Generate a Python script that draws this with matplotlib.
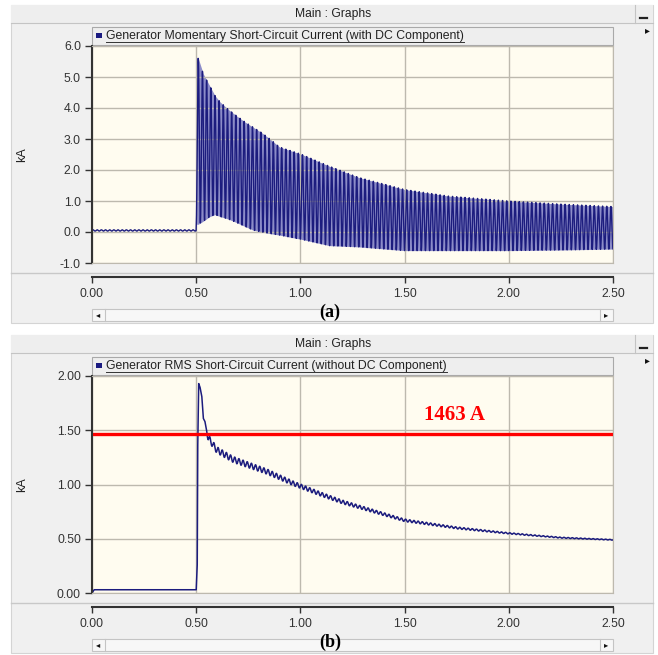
import numpy as np
import matplotlib.pyplot as plt
from matplotlib.patches import Rectangle

# ---- data ----
f_sys = 50.0            # Hz, counted from the waveform
t_fault = 0.50

# (a) momentary current envelope, kA
t_env = [0.500, 0.510, 0.534, 0.566, 0.590, 0.614, 0.653, 0.695, 0.734, 0.773,
         0.815, 0.854, 0.900, 1.000, 1.140, 1.280, 1.500, 1.710, 2.000, 2.250, 2.500]
upper = [5.65, 5.60, 5.10, 4.70, 4.40, 4.20, 3.96, 3.74, 3.55, 3.38,
         3.20, 3.00, 2.74, 2.52, 2.12, 1.76, 1.37, 1.16, 1.00, 0.90, 0.82]
lower = [0.25, 0.25, 0.35, 0.50, 0.56, 0.50, 0.42, 0.30, 0.18, 0.06,
         0.00, -0.05, -0.10, -0.23, -0.44, -0.48, -0.60, -0.60, -0.60, -0.58, -0.55]
pre_level = 0.05
pre_ripple = 0.02

# (b) rms current, kA
t_rms = [0.000, 0.010, 0.500, 0.505, 0.507, 0.512, 0.518, 0.527, 0.534, 0.542,
         0.550, 0.558, 0.598, 0.678, 0.838, 0.966, 1.100, 1.200, 1.500, 1.750,
         2.000, 2.250, 2.500]
rms = [0.00, 0.03, 0.03, 0.26, 1.30, 1.93, 1.90, 1.81, 1.61, 1.58,
       1.50, 1.43, 1.32, 1.23, 1.12, 1.01, 0.91, 0.84, 0.67, 0.60,
       0.55, 0.51, 0.49]
t_rip = [0.55, 0.80, 1.00, 1.50, 2.00, 2.50]
rip_amp = [0.030, 0.025, 0.020, 0.012, 0.006, 0.003]
limit_kA = 1.463
limit_text = "1463 A"

x_ticks = [0.0, 0.5, 1.0, 1.5, 2.0, 2.5]
ya_ticks = [-1.0, 0.0, 1.0, 2.0, 3.0, 4.0, 5.0, 6.0]
yb_ticks = [0.0, 0.5, 1.0, 1.5, 2.0]

title_a = "Generator Momentary Short-Circuit Current (with DC Component)"
title_b = "Generator RMS Short-Circuit Current (without DC Component)"

# ---- signals ----
t = np.arange(0, 2.5, 1 / (f_sys * 40))
ph = 2 * np.pi * f_sys * (t - t_fault)
up_i = np.interp(t, t_env, upper)
lo_i = np.interp(t, t_env, lower)
ia = np.where(t < t_fault,
              pre_level + pre_ripple * np.sin(2 * np.pi * f_sys * t),
              (up_i + lo_i) / 2 - (up_i - lo_i) / 2 * np.cos(ph))
ib = np.interp(t, t_rms, rms) + np.where(t > 0.55, np.interp(t, t_rip, rip_amp) * np.sin(ph), 0)

# ---- figure ----
W, H = 658, 655
fig = plt.figure(figsize=(W / 100, H / 100), dpi=100)
fig.patch.set_facecolor("white")
ui = "Liberation Sans"


def box(x0, y0, x1, y1):
    return [x0 / W, 1 - y1 / H, (x1 - x0) / W, (y1 - y0) / H]


bg = fig.add_axes([0, 0, 1, 1])
bg.set_xlim(0, W)
bg.set_ylim(H, 0)
bg.axis("off")

grid_c = "#bdb9ae"
line_c = "#1c1c7e"
legend_texts = []


def window(dy, legend, tag):
    bg.add_patch(Rectangle((11, 5 + dy), 642, 318, fc="#f0f0f0", ec="#d4d4d4", lw=0.8))
    bg.add_patch(Rectangle((11, 5 + dy), 642, 18, fc="#eeeeee", ec="none"))
    bg.plot([11, 653], [23 + dy, 23 + dy], color="#c4c4c4", lw=0.8)
    bg.plot([635, 635], [5 + dy, 23 + dy], color="#c4c4c4", lw=0.8)
    bg.text(333, 14.5 + dy, "Main : Graphs", family=ui, fontsize=8.7, color="#222222",
            ha="center", va="center")
    bg.plot([640, 647], [18 + dy, 18 + dy], color="#222222", lw=1.6)
    bg.text(647, 30 + dy, "\u25b8", fontsize=7, color="#111111", ha="center", va="center")
    # legend strip
    bg.add_patch(Rectangle((92, 27 + dy), 521, 18, fc="#eeeeee", ec="#a9a9a9", lw=0.8))
    bg.add_patch(Rectangle((96, 33 + dy), 6, 5, fc="#1a1a80", ec="none"))
    txt = bg.text(106, 36 + dy, legend, family=ui, fontsize=8.8, color="#222222",
                  va="center", ha="left")
    legend_texts.append((txt, dy))
    # x-axis strip separator and scrollbar
    bg.plot([11, 653], [273 + dy, 273 + dy], color="#c8c8c8", lw=1)
    bg.add_patch(Rectangle((92, 309 + dy), 521, 12, fc="#f7f7f7", ec="#c4c4c4", lw=0.8))
    bg.plot([105, 105], [309 + dy, 321 + dy], color="#c4c4c4", lw=0.8)
    bg.plot([600, 600], [309 + dy, 321 + dy], color="#c4c4c4", lw=0.8)
    bg.text(98.5, 315 + dy, "\u25c2", fontsize=6, color="#111111", ha="center", va="center")
    bg.text(606.5, 315 + dy, "\u25b8", fontsize=6, color="#111111", ha="center", va="center")
    bg.text(22, 155 + dy, "kA", family=ui, fontsize=9, color="#222222", rotation=90,
            ha="center", va="center")
    bg.text(330, 312 + dy, tag, family="Liberation Serif", fontsize=13, fontweight="bold",
            color="black", ha="center", va="center")


def plot_area(dy, ylim, yticks, fmt):
    ax = fig.add_axes(box(92, 46 + dy, 613, 263 + dy))
    ax.set_facecolor("#fffcf0")
    ax.set_xlim(0, 2.5)
    ax.set_ylim(*ylim)
    ax.set_xticks(x_ticks)
    ax.set_yticks(yticks)
    ax.set_yticklabels([fmt.format(v) for v in yticks], family=ui, fontsize=8.8, color="#333333")
    ax.tick_params(axis="x", length=0, labelbottom=False)
    ax.tick_params(axis="y", direction="out", length=5, width=1, color="#333333", pad=3)
    ax.grid(True, color=grid_c, lw=1)
    for s in ("top", "right", "bottom"):
        ax.spines[s].set_color(grid_c)
    ax.spines["left"].set_color("#333333")
    ax.spines["left"].set_linewidth(1.5)
    # separate time axis below
    axx = fig.add_axes(box(92, 270 + dy, 613, 277 + dy))
    axx.set_xlim(0, 2.5)
    axx.set_xticks(x_ticks)
    axx.set_xticklabels(["{:.2f}".format(v) for v in x_ticks], family=ui, fontsize=8.8,
                        color="#333333")
    axx.set_yticks([])
    axx.patch.set_visible(False)
    for s in ("top", "right", "left"):
        axx.spines[s].set_visible(False)
    axx.spines["bottom"].set_color("#333333")
    axx.spines["bottom"].set_linewidth(1.5)
    axx.tick_params(axis="x", direction="out", length=4, width=1, color="#333333", pad=4)
    return ax


window(0, title_a, "(a)")
window(330, title_b, "(b)")

ax_a = plot_area(0, (-1.0, 6.0), ya_ticks, "{:.1f}")
ax_a.fill_between(t_env, lower, upper, color="#8c8cc8", lw=0)
ax_a.plot(t, ia, color=line_c, lw=1.0)

ax_b = plot_area(330, (0.0, 2.0), yb_ticks, "{:.2f}")
ax_b.plot(t, ib, color=line_c, lw=1.1)
ax_b.plot([0, 2.5], [limit_kA, limit_kA], color="#ff0000", lw=2.4)
ax_b.text(1.74, 1.545, limit_text, family="Liberation Serif", fontsize=15, fontweight="bold",
          color="#ff0000", ha="center", va="bottom")

# underline legend captions to their rendered width
fig.canvas.draw()
r = fig.canvas.get_renderer()
for txt, dy in legend_texts:
    bb = txt.get_window_extent(r)
    x1 = bb.x1 * W / fig.bbox.width
    bg.plot([106, x1], [42 + dy, 42 + dy], color="#333333", lw=0.7)

fig.savefig("out.png", dpi=100, facecolor=fig.get_facecolor())
